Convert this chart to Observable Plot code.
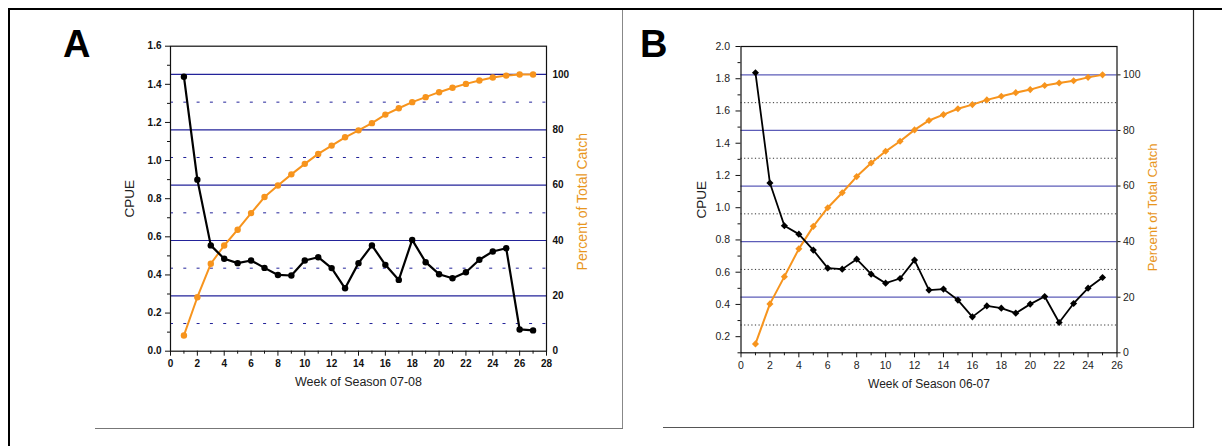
<!DOCTYPE html>
<html><head><meta charset="utf-8">
<script src="https://cdn.jsdelivr.net/npm/d3@7"></script>
<script src="https://cdn.jsdelivr.net/npm/@observablehq/plot@0.6"></script>
<style>
body{margin:0;background:#fff;}
#wrap{position:relative;width:1222px;height:446px;overflow:hidden;background:#fff;}
.abs{position:absolute;}
</style></head>
<body><div id="wrap">
<svg class="abs" style="left:0;top:0" width="1222" height="446">
  <line x1="8" y1="9" x2="1222" y2="9" stroke="#000" stroke-width="2"/>
  <line x1="9" y1="8" x2="9" y2="446" stroke="#000" stroke-width="2"/>
  <line x1="622.5" y1="10" x2="622.5" y2="429" stroke="#888" stroke-width="1"/>
  <line x1="95" y1="428.5" x2="623" y2="428.5" stroke="#777" stroke-width="1"/>
  <line x1="663" y1="427.5" x2="1193.5" y2="427.5" stroke="#555" stroke-width="1"/>
  <line x1="1193.5" y1="10" x2="1193.5" y2="428" stroke="#222" stroke-width="1.2"/>
  <text x="63" y="57" font-family="Liberation Sans, Arial, sans-serif" font-weight="bold" font-size="38">A</text>
  <text x="640" y="57" font-family="Liberation Sans, Arial, sans-serif" font-weight="bold" font-size="38">B</text>
</svg>
<div id="pa" class="abs" style="left:100px;top:30px"></div>
<div id="pb" class="abs" style="left:660px;top:30px"></div>
</div>
<script>
// ---- Panel A : season 07-08 ----
const weeksA = [1,2,3,4,5,6,7,8,9,10,11,12,13,14,15,16,17,18,19,20,21,22,23,24,25,26,27];
const cpueA = [1.44,0.90,0.555,0.485,0.462,0.476,0.437,0.40,0.397,0.476,0.493,0.436,0.33,0.462,0.555,0.453,0.374,0.584,0.467,0.404,0.383,0.414,0.48,0.523,0.54,0.114,0.109];
const pctA = [5.7,19.5,31.6,38.2,43.9,49.9,55.7,59.9,63.9,67.7,71.3,74.3,77.3,79.8,82.4,85.5,87.8,90.0,91.8,93.6,95.2,96.6,97.8,98.9,99.6,100,100];
// ---- Panel B : season 06-07 ----
const weeksB = [1,2,3,4,5,6,7,8,9,10,11,12,13,14,15,16,17,18,19,20,21,22,23,24,25];
const cpueB = [1.837,1.153,0.888,0.836,0.737,0.625,0.619,0.681,0.588,0.532,0.561,0.675,0.489,0.495,0.427,0.323,0.391,0.377,0.346,0.402,0.449,0.288,0.406,0.501,0.567];
const pctB = [3.2,17.6,27.4,37.4,45.5,52.2,57.6,63.4,68.3,72.5,76.1,80.2,83.6,85.7,87.8,89.3,91.0,92.3,93.6,94.7,96.2,97.1,97.9,99.1,100];
// ---- tick labels ----
const leftTicksA = [0,0.2,0.4,0.6,0.8,1.0,1.2,1.4,1.6];
const leftMinorA = [0.1,0.3,0.5,0.7,0.9,1.1,1.3,1.5];
const leftTicksB = [0.2,0.4,0.6,0.8,1.0,1.2,1.4,1.6,1.8,2.0];
const leftMinorB = [0.1,0.3,0.5,0.7,0.9,1.1,1.3,1.5,1.7,1.9];
const xTicksA = [0,2,4,6,8,10,12,14,16,18,20,22,24,26,28];
const xMinorA = [1,3,5,7,9,11,13,15,17,19,21,23,25,27];
const xTicksB = [0,2,4,6,8,10,12,14,16,18,20,22,24,26];
const xMinorB = [1,3,5,7,9,11,13,15,17,19,21,23,25];
const pctMajor = [20,40,60,80,100];
const pctMinor = [10,30,50,70,90];
const pctLabels = [0,20,40,60,80,100];

const ORANGE = "#F7941D";

function panel(o) {
  const toY = p => o.y0 + p * o.k;
  const fromY = v => Math.round((v - o.y0) / o.k);
  const ra = o.weeks.map((w, i) => ({w, c: o.cpue[i], p: toY(o.pct[i])}));
  const tf = o.tickFont;
  return Plot.plot({
    width: o.width, height: 370,
    marginLeft: o.ml, marginRight: o.mr, marginTop: o.mt, marginBottom: o.mb,
    x: {domain: o.xdom, axis: null},
    y: {domain: o.ydom, axis: null},
    style: {fontFamily: tf.family, fontSize: tf.size + "px", fontWeight: tf.weight, background: "transparent", overflow: "visible", color: tf.color},
    marks: [
      Plot.ruleY(pctMinor.map(toY), {stroke: o.dotColor, strokeDasharray: o.dash, strokeWidth: 1}),
      Plot.ruleY(pctMajor.map(toY), {stroke: o.gridColor, strokeWidth: 1.2}),
      Plot.frame({stroke: "#111", strokeWidth: 1.2}),
      Plot.axisX(o.xTicks, {tickSize: 5, tickPadding: 4, tickFormat: d => String(d), label: null, stroke: "#111"}),
      Plot.axisX(o.xMinor, {tickSize: 3, tickFormat: () => "", label: null, stroke: "#111"}),
      Plot.axisY(o.leftTicks, {tickSize: 5, tickPadding: o.ltp, tickFormat: d3.format(".1f"), label: null, stroke: "#111"}),
      Plot.axisY(o.leftMinor, {tickSize: 3, tickFormat: () => "", label: null, stroke: "#111"}),
      Plot.axisY(pctLabels.map(toY), {anchor: "right", tickSize: o.rts, tickPadding: o.rtp, tickFormat: fromY, label: null, stroke: "#111"}),
      Plot.line(ra, {x: "w", y: "p", stroke: ORANGE, strokeWidth: 2}),
      Plot.dot(ra, {x: "w", y: "p", fill: ORANGE, stroke: null, r: o.r, symbol: o.sym}),
      Plot.line(ra, {x: "w", y: "c", stroke: "#000", strokeWidth: o.lw}),
      Plot.dot(ra, {x: "w", y: "c", fill: "#000", stroke: null, r: o.r, symbol: o.sym}),
      Plot.text(["CPUE"], {frameAnchor: "left", textAnchor: "middle", dx: o.cpueDx, rotate: -90, fontSize: o.labSize, fill: "#222", fontWeight: "normal", fontFamily: "Liberation Sans, Arial, sans-serif"}),
      Plot.text(["Percent of Total Catch"], {frameAnchor: "right", textAnchor: "middle", dx: o.pctDx, dy: o.pctDy, rotate: -90, fontSize: o.pctSize, fill: "#E8961E", fontWeight: "normal", fontFamily: "Liberation Sans, Arial, sans-serif"}),
      Plot.text([o.xTitle], {frameAnchor: "bottom", dy: 35, fontSize: o.xtSize, fill: "#222", fontWeight: "normal", fontFamily: o.xtFamily})
    ]
  });
}

document.getElementById("pa").appendChild(panel({
  weeks: weeksA, cpue: cpueA, pct: pctA,
  width: 500, ml: 70, mr: 54, mt: 15.7, mb: 49.3,
  xdom: [0, 28], ydom: [0, 1.6], y0: 0, k: 0.014517,
  xTicks: xTicksA, xMinor: xMinorA, leftTicks: leftTicksA, leftMinor: leftMinorA,
  gridColor: "#23239A", dotColor: "#23239A", dash: "3,10.3",
  tickFont: {family: "Liberation Sans, Arial, sans-serif", size: 10, weight: "bold", color: "#111"},
  ltp: 4, rts: 0, rtp: 6, r: 3.2, sym: "circle", lw: 2.2,
  cpueDx: -41, pctDx: 36, pctDy: 3, labSize: 13.5, pctSize: 14,
  xTitle: "Week of Season 07-08", xtSize: 12.5, xtFamily: "Liberation Sans, Arial, sans-serif"
}));

document.getElementById("pb").appendChild(panel({
  weeks: weeksB, cpue: cpueB, pct: pctB,
  width: 520, ml: 80.5, mr: 63.5, mt: 16, mb: 47.7,
  xdom: [0, 26], ydom: [0.1, 2.0], y0: 0.1, k: 0.01724,
  xTicks: xTicksB, xMinor: xMinorB, leftTicks: leftTicksB, leftMinor: leftMinorB,
  gridColor: "#5C5CB8", dotColor: "#333", dash: "1.2,2.4",
  tickFont: {family: "Liberation Sans, Arial, sans-serif", size: 10.5, weight: "normal", color: "#222"},
  ltp: 6, rts: 3, rtp: 3, r: 3.2, sym: "diamond2", lw: 1.8,
  cpueDx: -39.5, pctDx: 36, pctDy: 7.7, labSize: 13.5, pctSize: 13,
  xTitle: "Week of Season 06-07", xtSize: 12, xtFamily: "Liberation Sans, Arial, sans-serif"
}));
</script>
</body></html>
